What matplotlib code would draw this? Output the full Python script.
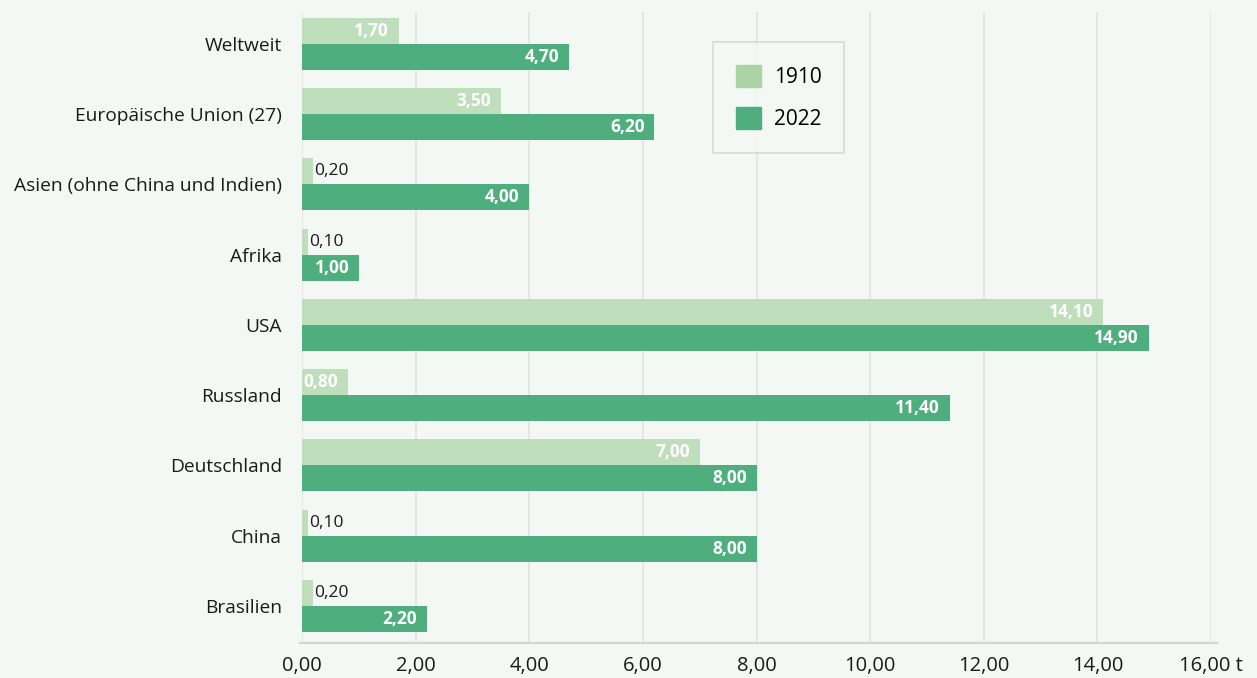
import matplotlib.pyplot as plt
from matplotlib.patches import Patch

# Daten
laender = ['Weltweit', 'Europäische Union (27)', 'Asien (ohne China und Indien)',
           'Afrika', 'USA', 'Russland', 'Deutschland', 'China', 'Brasilien']
werte_1910 = [1.70, 3.50, 0.20, 0.10, 14.10, 0.80, 7.00, 0.10, 0.20]
werte_2022 = [4.70, 6.20, 4.00, 1.00, 14.90, 11.40, 8.00, 8.00, 2.20]
jahre = ['1910', '2022']
xticks = [0, 2, 4, 6, 8, 10, 12, 14, 16]

bg = '#f4f8f4'
hell = '#bfdfbc'
hell_leg = '#abd3a5'
dunkel = '#4fae7e'

plt.rcParams['font.family'] = ['Open Sans', 'DejaVu Sans']

fig = plt.figure(figsize=(12.57, 6.78), dpi=100, facecolor=bg)
ax = fig.add_axes([0.2403, 0.0516, 0.7232, 0.9307], facecolor=bg)

h = 0.37
pos = list(range(len(laender)))
b1 = ax.barh([p - h / 2 for p in pos], werte_1910, height=h, color=hell, zorder=3)
b2 = ax.barh([p + h / 2 for p in pos], werte_2022, height=h, color=dunkel, zorder=3)

def fmt(v):
    return ('%.2f' % v).replace('.', ',')

for bars, vals in ((b1, werte_1910), (b2, werte_2022)):
    for b, v in zip(bars, vals):
        y = b.get_y() + b.get_height() / 2
        if v >= 0.5:
            ax.text(v - 0.17, y, fmt(v), ha='right', va='center', color='white',
                    fontsize=12.5, fontweight='bold', zorder=4)
        else:
            ax.text(v + 0.02, y, fmt(v), ha='left', va='center', color='#1a1a1a',
                    fontsize=12.5, zorder=4)

ax.set_ylim(8.53, -0.455)
ax.set_xlim(0, 16)
ax.set_yticks(pos)
ax.set_yticklabels(laender, fontsize=13.8, color='#1a1a1a')
ax.set_xticks(xticks)
ax.set_xticklabels([fmt(t) for t in xticks[:-1]] + [fmt(xticks[-1]) + ' t'],
                   fontsize=14.5, color='#1a1a1a')
ax.tick_params(length=0)
ax.tick_params(axis='y', pad=14.4)
ax.tick_params(axis='x', pad=9)

ax.grid(axis='x', color='#e2e2e2', linewidth=1.2, zorder=0)
for s in ['top', 'right', 'left']:
    ax.spines[s].set_visible(False)
ax.spines['bottom'].set_color('#d4d4d4')
ax.spines['bottom'].set_linewidth(1.5)
ax.spines['bottom'].set_bounds(-0.03, 16.1)

leg = ax.legend(handles=[Patch(color=hell_leg, label=jahre[0]),
                         Patch(color=dunkel, label=jahre[1])],
                loc='upper left', bbox_to_anchor=(0.4525, 0.952),
                fontsize=15, frameon=True, fancybox=False,
                handlelength=1.2, handleheight=1.25, borderpad=1.1,
                labelspacing=0.9, handletextpad=0.6, borderaxespad=0)
leg.get_frame().set_edgecolor('#d4d4d4')
leg.get_frame().set_facecolor(bg)
leg.get_frame().set_linewidth(1.3)

fig.savefig('out.png', dpi=100, facecolor=bg)
